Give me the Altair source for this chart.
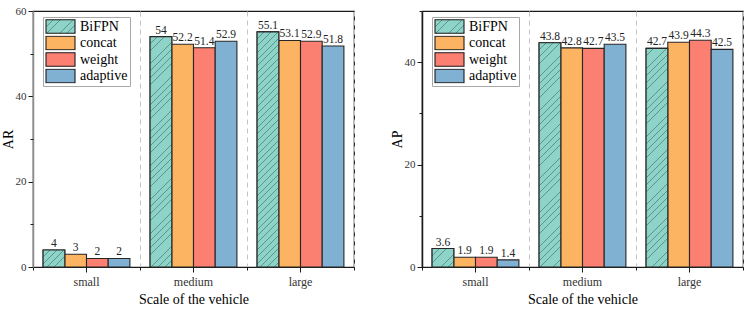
import json
import altair as alt
import pandas as pd

# categories and series
SCALES = ["small", "medium", "large"]
METHODS = ["BiFPN", "concat", "weight", "adaptive"]
COLORS = ["#8DD3C7", "#FDB462", "#FB8072", "#80B1D3"]

# AR values per scale (BiFPN, concat, weight, adaptive)
AR_SMALL = [4, 3, 2, 2]
AR_MEDIUM = [54, 52.2, 51.4, 52.9]
AR_LARGE = [55.1, 53.1, 52.9, 51.8]

# AP values per scale (BiFPN, concat, weight, adaptive)
AP_SMALL = [3.6, 1.9, 1.9, 1.4]
AP_MEDIUM = [43.8, 42.8, 42.7, 43.5]
AP_LARGE = [42.7, 43.9, 44.3, 42.5]

AR_TICKS = [0, 20, 40, 60]
AP_TICKS = [0, 20, 40]
MINOR_TICKS = [10, 30, 50]

FONT = "'Times New Roman', 'Liberation Serif', serif"
PLOT_W = 321
PLOT_H = 256
OUTER_PAD = 0.465
BAR_W = PLOT_W / 3 / (len(METHODS) + 2 * OUTER_PAD)
SYM_W, SYM_H = 29, 29 * 0.47
HATCH_BASE = "#8DD3C7"
HATCH_LINE = "#5A968E"


def hatch(w, h, period=6.8, thick=0.85):
    """Diagonal '/' hatching as a striped linear gradient for a w x h box."""
    h = max(h, 1.0)
    span = w + h
    c = span / (w * w + h * h)
    stops = [{"offset": 0, "color": HATCH_BASE}]
    k = 1
    while k * period < span:
        a = round(k * period / span, 5)
        b = round(min((k * period + thick) / span, 1.0), 5)
        stops += [
            {"offset": a, "color": HATCH_BASE},
            {"offset": a, "color": HATCH_LINE},
            {"offset": b, "color": HATCH_LINE},
            {"offset": b, "color": HATCH_BASE},
        ]
        k += 1
    stops.append({"offset": 1, "color": HATCH_BASE})
    return {"gradient": "linear", "x1": 0, "y1": 0,
            "x2": round(w * c, 5), "y2": round(h * c, 5), "stops": stops}


def legend_swatch():
    # hatched swatch for the BiFPN legend entry, given as a Vega expression
    return alt.ExprRef(expr=json.dumps(hatch(SYM_W, SYM_H)))


def panel(series, ymax, ticks, ytitle, ydomain_color):
    rows = []
    for s, vals in zip(SCALES, series):
        for m, v in zip(METHODS, vals):
            rows.append({"scale": s, "method": m, "value": v, "label": f"{v:g}"})
    df = pd.DataFrame(rows)

    xscale = alt.Scale(type="band", domain=SCALES, paddingInner=0, paddingOuter=0)
    oscale = alt.Scale(domain=METHODS, paddingInner=0, paddingOuter=OUTER_PAD)
    yscale = alt.Scale(domain=[0, ymax], nice=False, zero=True)
    xoff = alt.XOffset("method:N", scale=oscale)

    bars = alt.Chart(df).mark_bar(stroke="#262626", strokeWidth=1.1).encode(
        x=alt.X("scale:N", scale=xscale, sort=SCALES,
                axis=alt.Axis(orient="bottom", tickBand="extent", grid=True,
                              gridDash=[5, 4], gridColor="#c4c4c4", gridWidth=1,
                              labels=False, title=None, tickSize=3,
                              domainColor="#1a1a1a", domainWidth=1.2,
                              tickColor="#1a1a1a")),
        xOffset=xoff,
        y=alt.Y("value:Q", scale=yscale,
                axis=alt.Axis(orient="left", values=ticks, tickSize=5,
                              labelPadding=2, title=ytitle, titlePadding=0,
                              domainColor=ydomain_color, domainWidth=1.5,
                              tickColor="#1a1a1a", grid=False)),
        color=alt.Color("method:N",
                        scale=alt.Scale(domain=METHODS,
                                        range=[legend_swatch()] + COLORS[1:]),
                        sort=METHODS,
                        legend=alt.Legend(
                            orient="none", legendX=10, legendY=6, title=None,
                            symbolType="M-1,-0.47H1V0.47H-1Z", symbolSize=SYM_W ** 2,
                            symbolStrokeColor="#1a1a1a", symbolStrokeWidth=1.1,
                            symbolOpacity=1, clipHeight=15, rowPadding=1.5,
                            labelFont=FONT, labelFontSize=14, labelColor="black",
                            labelOffset=4, padding=2, strokeColor="#a8a8a8",
                            fillColor="white")),
    )

    layers = [bars]
    # hatched BiFPN bars drawn over the plain ones
    for s, vals in zip(SCALES, series):
        layers.append(
            alt.Chart(df).transform_filter(
                (alt.datum.method == "BiFPN") & (alt.datum.scale == s)
            ).mark_bar(fill=hatch(BAR_W, vals[0] / ymax * PLOT_H),
                       stroke="#262626", strokeWidth=1.1).encode(
                x=alt.X("scale:N", scale=xscale, sort=SCALES, axis=None),
                xOffset=xoff,
                y=alt.Y("value:Q", scale=yscale, axis=None),
            )
        )

    labels = alt.Chart(df).mark_text(
        baseline="bottom", dy=-1, font=FONT, fontSize=11.5, color="#222222"
    ).encode(
        x=alt.X("scale:N", scale=xscale, sort=SCALES,
                axis=alt.Axis(orient="bottom", tickSize=5, grid=False,
                              domain=False, labelPadding=4, labelAngle=0,
                              title="Scale of the vehicle", titlePadding=5,
                              tickColor="#1a1a1a")),
        xOffset=xoff,
        y=alt.Y("value:Q", scale=yscale,
                axis=alt.Axis(orient="left", values=MINOR_TICKS, labels=False,
                              title=None, tickSize=3, domain=False, grid=False,
                              tickColor="#1a1a1a")),
        text="label:N",
    )
    layers.append(labels)

    return alt.layer(*layers).resolve_axis(x="independent", y="independent").properties(
        width=PLOT_W, height=PLOT_H
    )


left = panel([AR_SMALL, AR_MEDIUM, AR_LARGE], 60, AR_TICKS, "AR", "#8c8c8c")
right = panel([AP_SMALL, AP_MEDIUM, AP_LARGE], 50, AP_TICKS, "AP", "#1a1a1a")

chart = alt.hconcat(left, right, spacing=33).resolve_scale(
    color="independent"
).properties(
    padding={"left": 0, "top": 4, "right": 3, "bottom": 0},
    background="white",
).configure_view(
    stroke="#1a1a1a", strokeWidth=1.2
).configure_axis(
    labelFont=FONT, titleFont=FONT, labelFontSize=11, titleFontSize=14,
    titleFontWeight="normal", labelColor="#333333", titleColor="black",
).configure_axisX(
    labelFontSize=12
)

chart.save("out.html", embed_options={"renderer": "svg", "actions": False})
